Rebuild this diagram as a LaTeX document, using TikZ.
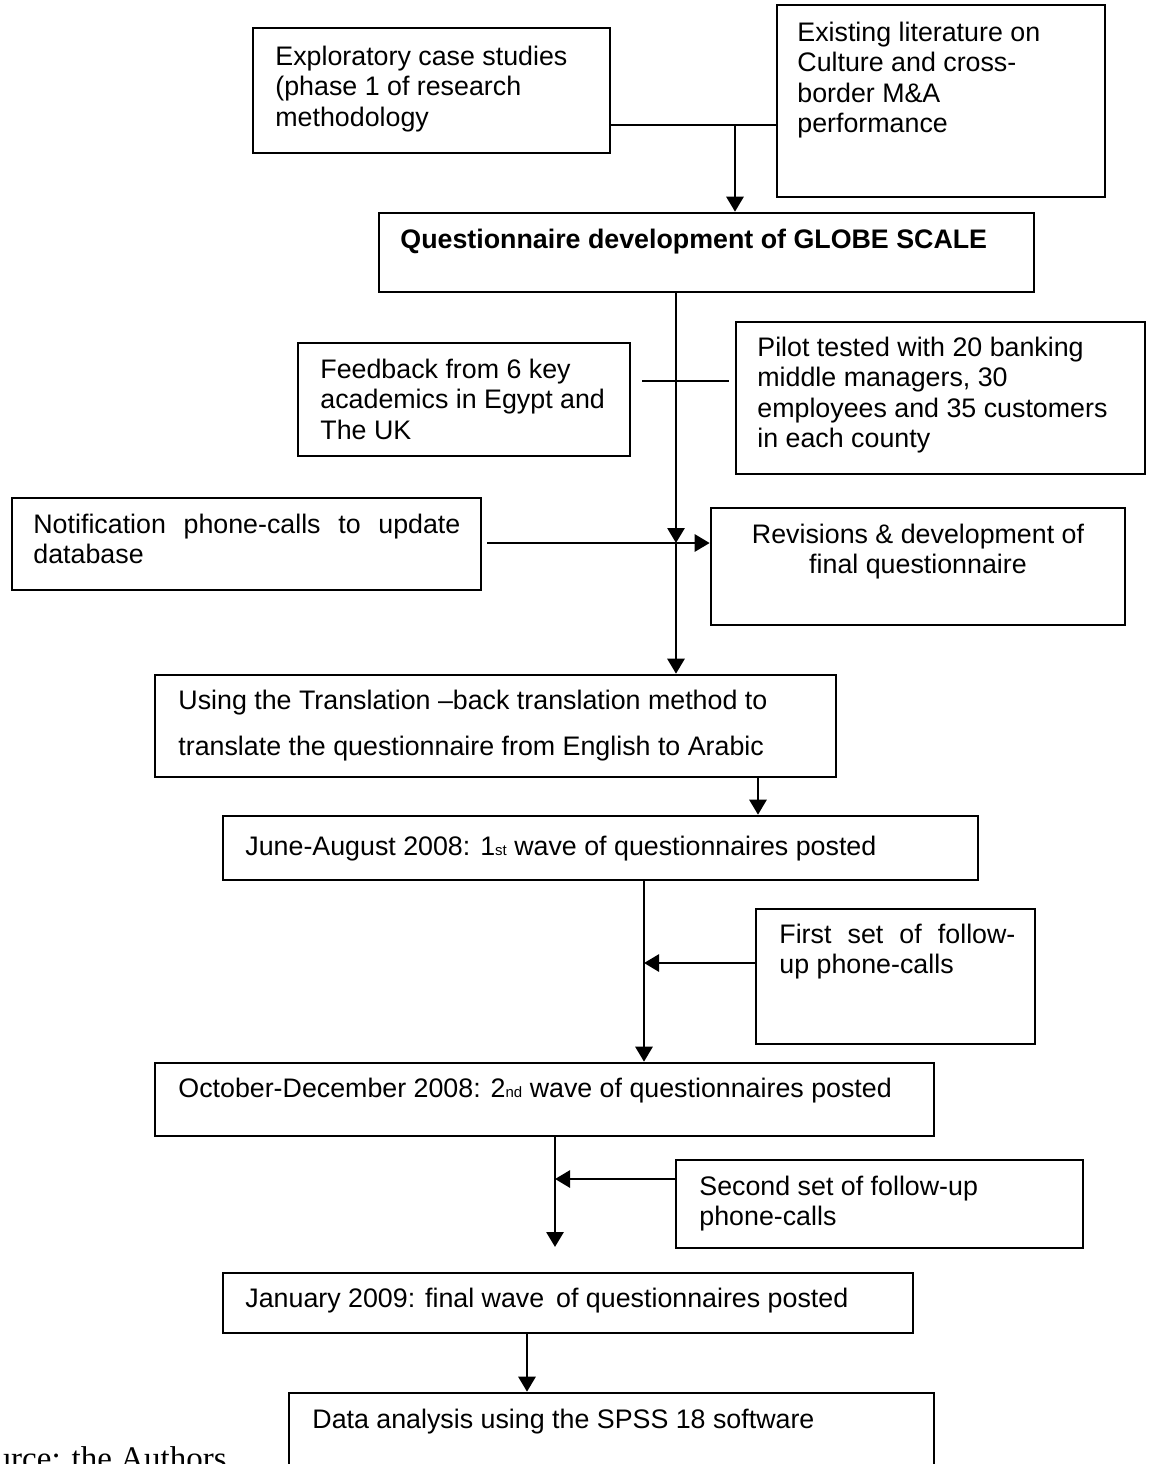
\documentclass[tikz,border=0pt]{standalone}
\usepackage{fontspec}
\setmainfont{Liberation Sans}
\newfontfamily\srcfont{Liberation Serif}
\usetikzlibrary{arrows.meta,fit,calc}
\begin{document}
\begin{tikzpicture}[x=0.5pt,y=-0.5pt,
  box/.style={draw, line width=1.3pt, inner sep=0pt},
  lbl/.style={inner sep=0pt, anchor=base west, font=\fontsize{13.4}{15.25}\selectfont},
  ln/.style={line width=1.4pt},
  arr/.style={line width=1.4pt, -{Triangle[length=7.5pt,width=8.5pt]}}
]
\path[use as bounding box, clip] (0,0) rectangle (1151,1464);

% boxes
\node[box, fit={(253,28)(610,153)}] (b1) {};
\node[box, fit={(777,5)(1105,197)}] (b2) {};
\node[box, fit={(379,213)(1034,292)}] (b3) {};
\node[box, fit={(298,343)(630,456)}] (b4) {};
\node[box, fit={(736,322)(1145,474)}] (b5) {};
\node[box, fit={(12,498)(481,590)}] (b6) {};
\node[box, fit={(711,508)(1125,625)}] (b7) {};
\node[box, fit={(155,675)(836,777)}] (b8) {};
\node[box, fit={(223,816)(978,880)}] (b9) {};
\node[box, fit={(756,909)(1035,1044)}] (b10) {};
\node[box, fit={(155,1063)(934,1136)}] (b11) {};
\node[box, fit={(676,1160)(1083,1248)}] (b12) {};
\node[box, fit={(223,1273)(913,1333)}] (b13) {};
\node[box, fit={(289,1393)(934,1490)}] (b14) {};

% texts
\node[lbl] (t1) at (275,65) {\parbox[t]{300pt}{\raggedright Exploratory case studies\\(phase 1 of research\\methodology}};
\node[lbl] (t2) at (797,41) {\parbox[t]{300pt}{\raggedright Existing literature on\\Culture and cross-\\border M\&A\\performance}};
\node[lbl] (t3) at (400,248) {\bfseries Questionnaire development of GLOBE SCALE};
\node[lbl] (t4) at (320,378) {\parbox[t]{300pt}{\raggedright Feedback from 6 key\\academics in Egypt and\\The UK}};
\node[lbl] (t5) at (757,356) {\parbox[t]{300pt}{\raggedright Pilot tested with 20 banking\\middle managers, 30\\employees and 35 customers\\in each county}};
\node[lbl] (t6) at (33,533) {\parbox[t]{300pt}{\raggedright\makebox[213.5pt][s]{Notification phone-calls to update}\\database}};
\node[lbl, anchor=base] (t7) at (918,543) {\parbox[t]{250pt}{\centering Revisions \& development of\\final questionnaire}};
\node[lbl, font=\fontsize{13.4}{23}\selectfont] (t8) at (178,709) {\parbox[t]{400pt}{\raggedright Using the Translation --back translation method to\\translate the questionnaire from English to Arabic}};
\node[lbl] (t9) at (245,855) {June-August 2008: 1{\fontsize{7.5}{8}\selectfont st} wave of questionnaires posted};
\node[lbl] (t10) at (779,943) {\parbox[t]{300pt}{\raggedright\makebox[118pt][s]{First set of follow-}\\up phone-calls}};
\node[lbl] (t11) at (178,1097) {October-December 2008: 2{\fontsize{7.5}{8}\selectfont nd} wave of questionnaires posted};
\node[lbl] (t12) at (699,1195) {\parbox[t]{300pt}{\raggedright Second set of follow-up\\phone-calls}};
\node[lbl] (t13) at (245,1307) {January 2009: final wave\ \,of questionnaires posted};
\node[lbl] (t14) at (312,1428) {Data analysis using the SPSS 18 software};
\node[inner sep=0pt, anchor=base east, font=\srcfont\fontsize{16.5}{18}\selectfont] (src) at (227,1469) {Source: the Authors};

% connectors
\coordinate (k) at (735,125);
\draw[ln] (b1.east |- k) -- (b2.west |- k);
\draw[arr] (k) -- (b3.north -| k);

\coordinate (j) at (676,543);
\draw[arr] (b3.south -| j) -- (j);
\draw[arr] (j) -- (b8.north -| j);
\draw[arr, shorten <=2.5pt] (b6.east |- j) -- (b7.west |- j);

\coordinate (f) at (676,381);
\draw[ln] ($(b4.east |- f)+(11,0)$) -- ($(b5.west |- f)+(-6,0)$);

\coordinate (p) at (758,800);
\draw[arr] (b8.south -| p) -- (b9.north -| p);

\coordinate (m) at (644,963);
\draw[arr] (b9.south -| m) -- (b11.north -| m);
\draw[arr] (b10.west |- m) -- (m);

\coordinate (n) at (555,1179);
\coordinate (e) at (555,1247);
\draw[arr] (b11.south -| n) -- (e);
\draw[arr] (b12.west |- n) -- (n);

\coordinate (q) at (527,1360);
\draw[arr] (b13.south -| q) -- (b14.north -| q);
\end{tikzpicture}
\end{document}
